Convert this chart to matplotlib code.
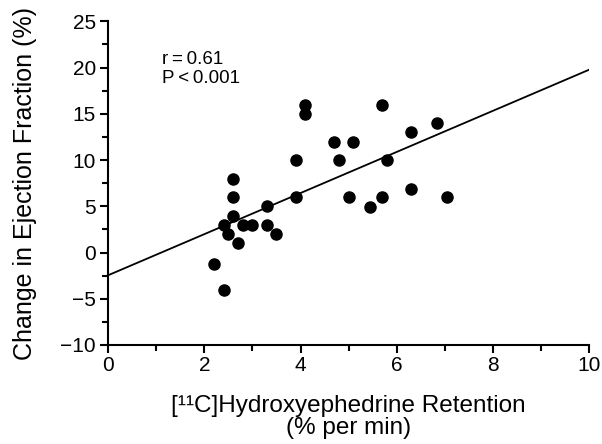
import numpy as np
import matplotlib.pyplot as plt
from matplotlib.ticker import MultipleLocator

plt.rcParams['font.family'] = ['Liberation Sans', 'DejaVu Sans']

# retention (% per min) and change in ejection fraction (%)
retention = [2.2, 2.4, 2.4, 2.5, 2.6, 2.6, 2.6, 2.7, 2.8, 3.0, 3.3, 3.3, 3.5,
             3.9, 3.9, 4.1, 4.1, 5.7, 6.85, 6.3, 4.7, 5.1, 4.8, 5.8, 5.0,
             5.45, 5.7, 6.3, 7.05]
change_ef = [-1.2, -4, 3, 2, 8, 6, 4, 1, 3, 3, 5, 3, 2,
             10, 6, 16, 15, 16, 14, 13, 12, 12, 10, 10, 6,
             4.9, 6, 6.9, 6]

# regression line as drawn
fit_intercept = -2.45
fit_slope = 2.22
fit_x = [0, 10]

stats_text = "r\u2009=\u20090.61\nP\u2009<\u20090.001"

fig = plt.figure(figsize=(6.02, 4.44), dpi=100)
ax = fig.add_axes([0.180, 0.223, 0.798, 0.729])

ax.scatter(retention, change_ef, s=64, color='black', zorder=3)
fx = np.array(fit_x)
ax.plot(fx, fit_intercept + fit_slope * fx, color='black', lw=1.3)

ax.set_xlim(0, 10)
ax.set_ylim(-10, 25)
ax.xaxis.set_major_locator(MultipleLocator(2))
ax.xaxis.set_minor_locator(MultipleLocator(1))
ax.yaxis.set_major_locator(MultipleLocator(5))
ax.yaxis.set_minor_locator(MultipleLocator(2.5))

for side in ['top', 'right']:
    ax.spines[side].set_visible(False)
for side in ['left', 'bottom']:
    ax.spines[side].set_linewidth(1.5)

ax.tick_params(which='major', direction='out', length=6, width=1.5, labelsize=15)
ax.tick_params(axis='x', which='major', pad=2)
ax.tick_params(axis='y', which='major', pad=3)
ax.tick_params(which='minor', direction='out', length=4, width=1.5)

ax.set_ylabel("Change in Ejection Fraction (%)", fontsize=18, labelpad=17)
ax.set_xlabel("[¹¹C]Hydroxyephedrine Retention\n(% per min)", fontsize=17.5,
              labelpad=14, linespacing=1.05)

ax.text(1.12, 19.85, stats_text, fontsize=13.5, va='center', ha='left', linespacing=1.12)

fig.savefig("out.png", dpi=100)
